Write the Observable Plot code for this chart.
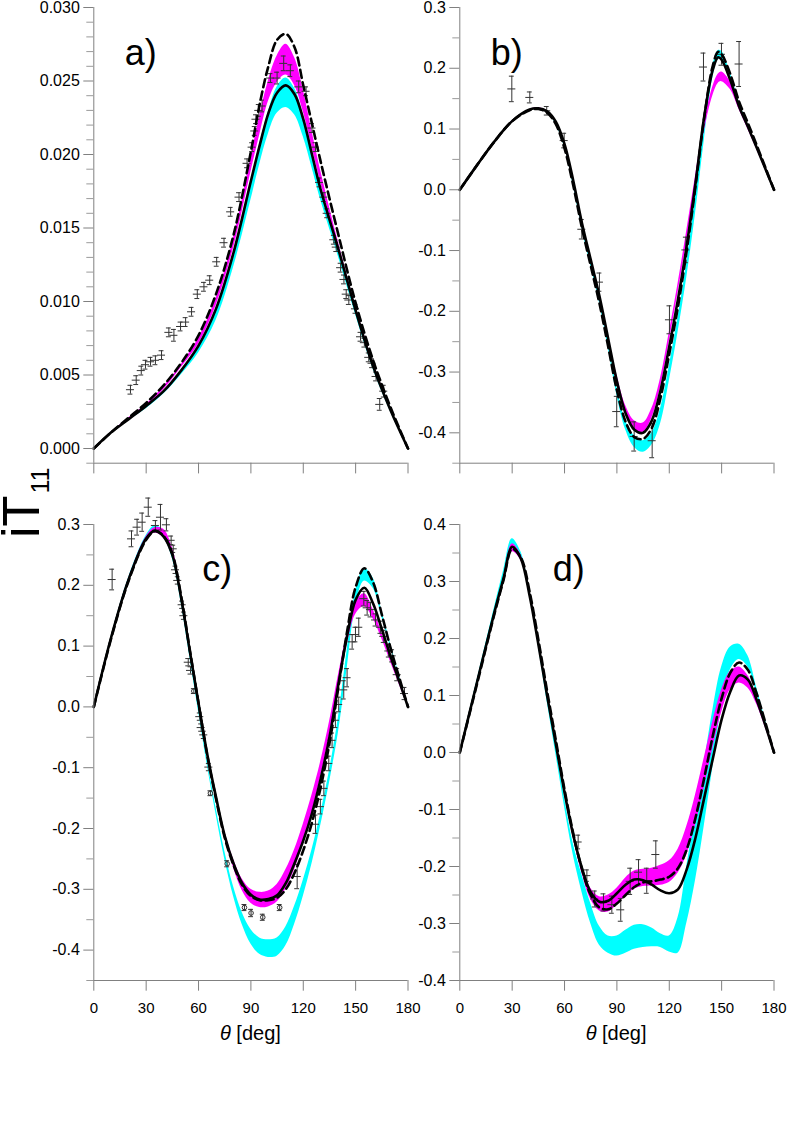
<!DOCTYPE html>
<html><head><meta charset="utf-8">
<script src="https://cdn.jsdelivr.net/npm/d3@7"></script>
<script src="https://cdn.jsdelivr.net/npm/@observablehq/plot@0.6"></script>
<style>
body{margin:0;background:#fff;}
#fig{position:relative;width:801px;height:1144px;font-family:"Liberation Sans",Arial,sans-serif;background:#fff;}
</style></head><body><div id="fig"></div>
<script>
// ---------- shared ----------
const xTicks = [0, 30, 60, 90, 120, 150, 180];
const xDomain = [0, 180];

// ---------- panel a ----------
const thetaA = [0,10,20,30,40,50,60,70,80,90,95,100,105,110,115,120,125,130,140,150,160,170,180];
const aSolid = [0,0.0011,0.0020,0.0029,0.0039,0.0053,0.0070,0.0095,0.0133,0.0182,0.0206,0.0228,0.0242,0.0247,0.0241,0.0224,0.0200,0.0176,0.0136,0.0094,0.0056,0.0026,0];
const aDashed = [0,0.0011,0.0021,0.0031,0.0043,0.0058,0.0077,0.0105,0.0145,0.0202,0.0234,0.0260,0.0278,0.0282,0.0273,0.0247,0.0221,0.0195,0.0146,0.0099,0.0060,0.0028,0];
const aMagHi = [0,0.0011,0.0021,0.0030,0.0042,0.0057,0.0075,0.0102,0.0143,0.0198,0.0226,0.0250,0.0267,0.0275,0.0266,0.0244,0.0216,0.0189,0.0141,0.0097,0.0059,0.0027,0];
const aMagLo = [0,0.0010,0.0020,0.0029,0.0040,0.0055,0.0071,0.0097,0.0136,0.0188,0.0213,0.0236,0.0249,0.0254,0.0247,0.0229,0.0205,0.0181,0.0137,0.0094,0.0057,0.0026,0];
const aCyaHi = [0,0.0011,0.0020,0.0029,0.0039,0.0053,0.0069,0.0093,0.0131,0.0181,0.0207,0.0229,0.0246,0.0252,0.0245,0.0227,0.0203,0.0178,0.0137,0.0095,0.0057,0.0026,0];
const aCyaLo = [0,0.0010,0.0019,0.0027,0.0037,0.0050,0.0065,0.0087,0.0123,0.0169,0.0193,0.0214,0.0228,0.0232,0.0227,0.0212,0.0191,0.0169,0.0131,0.0091,0.0054,0.0025,0];
const aPtT = [21.0,24.3,27.2,29.6,32.5,35.3,38.8,43.0,45.9,49.7,52.6,56.0,59.3,63.1,66.4,70.4,74.6,78.4,83.2,87.8,90.7,92.2,92.9,94.5,96.4,101.2,105.0,108.8,112.6,117.4,121.6,125.0,127.0,129.3,131.8,133.7,137.5,138.9,141.4,143.3,144.6,146.1,149.9,152.8,155.0,157.5,159.4,161.7,163.8,166.1];
const aPtV = [0.0040,0.00465,0.0053,0.0057,0.0059,0.0060,0.00635,0.0079,0.0077,0.0083,0.0086,0.0093,0.0105,0.0110,0.01145,0.0127,0.0140,0.0161,0.0171,0.0194,0.0205,0.0216,0.0224,0.0230,0.0233,0.0252,0.0252,0.0262,0.0257,0.0246,0.0243,0.0218,0.0205,0.0181,0.0171,0.0160,0.0142,0.0137,0.0123,0.0115,0.0105,0.0101,0.0095,0.0076,0.0072,0.0062,0.0058,0.0049,0.0030,0.0039];
const aPtE = [0.0003,0.0003,0.0003,0.0003,0.0003,0.0003,0.0003,0.0003,0.0004,0.0003,0.0003,0.0003,0.0003,0.0003,0.0003,0.0003,0.0003,0.0003,0.0003,0.0003,0.0003,0.0003,0.0003,0.0004,0.0004,0.0003,0.0004,0.0005,0.0004,0.0004,0.0003,0.0003,0.0003,0.0003,0.0003,0.0003,0.0003,0.0003,0.0003,0.0003,0.0003,0.0003,0.0003,0.0003,0.0003,0.0003,0.0003,0.0003,0.0004,0.0004];
const aYMajor = [0, 0.005, 0.010, 0.015, 0.020, 0.025, 0.030];
const aYDomain = [-0.001, 0.030];

// ---------- panel b ----------
const thetaB = [0,10,20,30,40,45,50,55,60,65,70,75,80,85,90,95,100,105,110,115,120,125,130,135,140,145,148,150,155,160,165,170,175,180];
const bSolid = [0,0.041,0.080,0.113,0.132,0.134,0.129,0.112,0.075,0.015,-0.055,-0.115,-0.175,-0.245,-0.315,-0.368,-0.395,-0.400,-0.380,-0.330,-0.258,-0.180,-0.092,0.010,0.120,0.198,0.218,0.214,0.180,0.137,0.104,0.070,0.035,0];
const bDashed = [0,0.041,0.080,0.113,0.131,0.133,0.127,0.108,0.068,0.007,-0.063,-0.125,-0.187,-0.258,-0.330,-0.382,-0.407,-0.410,-0.392,-0.342,-0.270,-0.192,-0.100,0.005,0.118,0.205,0.227,0.223,0.190,0.145,0.110,0.074,0.037,0];
const bMagHi = [0,0.041,0.080,0.113,0.132,0.135,0.130,0.113,0.077,0.018,-0.052,-0.112,-0.170,-0.238,-0.305,-0.355,-0.380,-0.384,-0.360,-0.310,-0.235,-0.155,-0.068,0.022,0.110,0.170,0.190,0.194,0.178,0.140,0.105,0.070,0.035,0];
const bMagLo = [0,0.040,0.079,0.112,0.130,0.133,0.128,0.110,0.073,0.012,-0.058,-0.118,-0.178,-0.248,-0.318,-0.368,-0.394,-0.399,-0.376,-0.325,-0.250,-0.170,-0.085,0.005,0.095,0.155,0.175,0.178,0.165,0.132,0.100,0.067,0.033,0];
const bCyaHi = [0,0.041,0.080,0.113,0.132,0.134,0.129,0.111,0.074,0.012,-0.058,-0.118,-0.178,-0.250,-0.325,-0.380,-0.405,-0.413,-0.400,-0.360,-0.290,-0.210,-0.120,-0.010,0.110,0.205,0.229,0.228,0.192,0.145,0.108,0.072,0.036,0];
const bCyaLo = [0,0.040,0.079,0.112,0.130,0.132,0.127,0.108,0.070,0.007,-0.064,-0.125,-0.186,-0.260,-0.338,-0.395,-0.424,-0.432,-0.420,-0.385,-0.315,-0.235,-0.145,-0.040,0.080,0.185,0.214,0.215,0.185,0.140,0.104,0.069,0.034,0];
const bPtT = [29.8,40.1,49.8,59.8,69.9,80.0,89.9,99.9,110.2,120.1,129.5,139.6,149.9,160.0];
const bPtV = [0.166,0.152,0.130,0.081,-0.065,-0.152,-0.365,-0.406,-0.413,-0.214,-0.099,0.202,0.223,0.207];
const bPtE = [0.021,0.009,0.007,0.012,0.016,0.015,0.025,0.024,0.028,0.023,0.021,0.023,0.018,0.037];
const bYMajor = [-0.4,-0.3,-0.2,-0.1,0,0.1,0.2,0.3];
const bYDomain = [-0.45, 0.3];

// ---------- panel c ----------
const thetaC = [0,10,20,30,35,40,45,50,55,60,65,70,75,80,85,90,95,100,105,110,115,120,125,130,135,140,145,150,155,160,165,170,175,180];
const cSolid = [0,0.115,0.210,0.277,0.290,0.280,0.250,0.180,0.092,0.006,-0.078,-0.148,-0.212,-0.257,-0.290,-0.309,-0.317,-0.316,-0.310,-0.290,-0.257,-0.220,-0.175,-0.118,-0.050,0.035,0.115,0.176,0.196,0.170,0.128,0.083,0.042,0];
const cDashed = [0,0.113,0.208,0.275,0.289,0.281,0.252,0.183,0.094,0.006,-0.080,-0.151,-0.215,-0.260,-0.293,-0.311,-0.318,-0.318,-0.314,-0.300,-0.273,-0.236,-0.190,-0.132,-0.060,0.030,0.122,0.197,0.228,0.205,0.152,0.097,0.048,0];
const cMagHi = [0,0.115,0.211,0.280,0.295,0.292,0.262,0.190,0.100,0.012,-0.072,-0.142,-0.205,-0.250,-0.283,-0.300,-0.305,-0.303,-0.292,-0.268,-0.235,-0.193,-0.145,-0.090,-0.025,0.050,0.120,0.172,0.186,0.160,0.122,0.080,0.040,0];
const cMagLo = [0,0.113,0.208,0.274,0.286,0.278,0.248,0.178,0.090,0.004,-0.080,-0.150,-0.215,-0.264,-0.302,-0.323,-0.330,-0.329,-0.321,-0.300,-0.268,-0.225,-0.175,-0.115,-0.048,0.030,0.100,0.152,0.165,0.145,0.112,0.074,0.037,0];
const cCyaHi = [0,0.116,0.213,0.282,0.298,0.290,0.255,0.182,0.090,0.000,-0.088,-0.165,-0.237,-0.295,-0.338,-0.366,-0.380,-0.383,-0.380,-0.362,-0.328,-0.285,-0.235,-0.175,-0.105,-0.020,0.090,0.190,0.228,0.212,0.158,0.104,0.052,0];
const cCyaLo = [0,0.113,0.208,0.274,0.288,0.279,0.244,0.172,0.082,-0.008,-0.096,-0.176,-0.250,-0.311,-0.358,-0.390,-0.407,-0.412,-0.410,-0.393,-0.358,-0.312,-0.258,-0.195,-0.125,-0.045,0.060,0.165,0.207,0.195,0.148,0.098,0.049,0];
const cPtT = [10.5,21.6,24.8,27.7,31.2,35.3,38.2,41.6,44.3,45.5,46.8,48.1,50.6,51.6,54.1,55.4,60.7,61.5,63.0,65.9,116.5,127.0,129.8,131.8,134.6,136.5,138.4,140.3,143.2,145.1,148.0,149.9,151.8,154.7,156.6,158.5,161.4,164.2,166.1,169.0,170.9,173.8,178.0];
const cPtV = [0.2095,0.2764,0.2956,0.3038,0.3285,0.2984,0.312,0.2995,0.274,0.260,0.2255,0.208,0.168,0.150,0.0735,0.060,-0.016,-0.034,-0.046,-0.099,-0.279,-0.193,-0.164,-0.134,-0.093,-0.055,-0.022,0.004,0.028,0.048,0.107,0.119,0.131,0.178,0.163,0.160,0.143,0.131,0.116,0.092,0.084,0.053,0.022];
const cPtE = [0.017,0.013,0.013,0.015,0.015,0.008,0.021,0.010,0.007,0.006,0.006,0.006,0.006,0.006,0.006,0.006,0.006,0.006,0.006,0.006,0.020,0.015,0.012,0.012,0.012,0.012,0.012,0.012,0.015,0.015,0.012,0.012,0.015,0.012,0.012,0.012,0.010,0.010,0.010,0.010,0.010,0.010,0.010];
const cOpenT = [57.3,66.8,76.4,86.3,90.1,96.8,106.5];
const cOpenV = [0.026,-0.142,-0.258,-0.330,-0.339,-0.346,-0.330];
const cOpenE = [0.004,0.004,0.005,0.005,0.006,0.005,0.005];
const cYMajor = [-0.4,-0.3,-0.2,-0.1,0,0.1,0.2,0.3];
const cYDomain = [-0.45, 0.3];

// ---------- panel d ----------
const thetaD = [0,10,20,25,30,35,40,45,50,55,60,65,70,75,80,85,90,95,100,105,110,115,120,125,130,135,140,145,150,155,160,165,170,175,180];
const dSolid = [0,0.125,0.248,0.305,0.361,0.340,0.275,0.190,0.100,0.015,-0.070,-0.145,-0.203,-0.245,-0.262,-0.260,-0.247,-0.232,-0.223,-0.224,-0.232,-0.242,-0.247,-0.240,-0.205,-0.150,-0.080,-0.010,0.058,0.107,0.135,0.128,0.093,0.048,0];
const dDashed = [0,0.122,0.245,0.302,0.357,0.342,0.282,0.198,0.108,0.022,-0.065,-0.142,-0.205,-0.250,-0.272,-0.275,-0.265,-0.250,-0.236,-0.228,-0.226,-0.223,-0.218,-0.203,-0.170,-0.115,-0.045,0.030,0.095,0.140,0.158,0.145,0.104,0.053,0];
const dMagHi = [0,0.123,0.246,0.305,0.366,0.347,0.285,0.200,0.110,0.025,-0.062,-0.138,-0.198,-0.238,-0.253,-0.250,-0.238,-0.220,-0.208,-0.205,-0.203,-0.198,-0.190,-0.170,-0.130,-0.075,-0.010,0.055,0.110,0.142,0.150,0.135,0.098,0.050,0];
const dMagLo = [0,0.118,0.240,0.298,0.352,0.337,0.278,0.192,0.102,0.015,-0.072,-0.150,-0.212,-0.258,-0.278,-0.280,-0.268,-0.252,-0.240,-0.235,-0.234,-0.233,-0.228,-0.212,-0.180,-0.128,-0.062,0.008,0.070,0.110,0.122,0.113,0.085,0.044,0];
const dCyaHi = [0,0.128,0.256,0.318,0.375,0.352,0.285,0.195,0.100,0.010,-0.080,-0.160,-0.215,-0.265,-0.305,-0.322,-0.322,-0.312,-0.303,-0.302,-0.308,-0.318,-0.322,-0.290,-0.200,-0.110,-0.020,0.075,0.150,0.185,0.190,0.170,0.115,0.058,0];
const dCyaLo = [0,0.122,0.247,0.308,0.362,0.342,0.277,0.187,0.090,-0.002,-0.095,-0.180,-0.245,-0.300,-0.338,-0.352,-0.357,-0.352,-0.345,-0.342,-0.341,-0.342,-0.350,-0.352,-0.300,-0.225,-0.130,-0.025,0.080,0.145,0.163,0.150,0.105,0.053,0];
const dPtT = [67.8,72.8,77.3,82.3,87.1,92.2,97.6,102.4,107.1,112.3];
const dPtV = [-0.157,-0.216,-0.257,-0.263,-0.267,-0.276,-0.226,-0.210,-0.225,-0.179];
const dPtE = [0.012,0.010,0.014,0.015,0.015,0.020,0.023,0.022,0.022,0.024];
const dYMajor = [-0.4,-0.3,-0.2,-0.1,0,0.1,0.2,0.3,0.4];
const dYDomain = [-0.4, 0.4];

const panelLabels = ["a)", "b)", "c)", "d)"];
const yTitle = ["iT", "11"];
const xTitle = ["θ", " [deg]"];

// ---------- builder ----------
const MAG = "#ff00ff", CYA = "#00ffff", AXIS = "#808080", ERR = "#333333";
const FONT = "'Liberation Sans', Arial, sans-serif";

function minorTicks(domain, step, majors) {
  const n = Math.round((domain[1] - domain[0]) / step);
  const out = [];
  for (let i = 0; i <= n; i++) {
    const v = +(domain[0] + i * step).toFixed(6);
    if (!majors.some(m => Math.abs(m - v) < step / 10)) out.push(v);
  }
  return out;
}

function panel(o) {
  const curve = o.theta.map((t, i) => ({t, s: o.solid[i], d: o.dashed[i], mLo: o.magLo[i], mHi: o.magHi[i], cLo: o.cyaLo[i], cHi: o.cyaHi[i]}));
  const pts = o.ptT.map((t, i) => ({t, v: o.ptV[i], e: o.ptE[i]}));
  const open = (o.openT || []).map((t, i) => ({t, v: o.openV[i], e: o.openE[i]}));
  const XE = 2.3, CAP = 1.4;
  const errMarks = (P) => [
    Plot.ruleX(P, {x: "t", y1: d => d.v - d.e, y2: d => d.v + d.e, stroke: ERR, strokeWidth: 1}),
    Plot.ruleY(P, {y: d => d.v + d.e, x1: d => d.t - CAP, x2: d => d.t + CAP, stroke: ERR, strokeWidth: 1}),
    Plot.ruleY(P, {y: d => d.v - d.e, x1: d => d.t - CAP, x2: d => d.t + CAP, stroke: ERR, strokeWidth: 1})
  ];
  const marks = [
    Plot.areaY(curve, {x: "t", y1: "cLo", y2: "cHi", fill: CYA, curve: "catmull-rom"}),
    Plot.areaY(curve, {x: "t", y1: "mLo", y2: "mHi", fill: MAG, curve: "catmull-rom"}),
    ...errMarks(pts),
    Plot.ruleY(pts, {y: "v", x1: d => d.t - XE, x2: d => d.t + XE, stroke: ERR, strokeWidth: 1}),
    ...errMarks(open),
    Plot.dot(open, {x: "t", y: "v", r: 2.3, stroke: ERR, strokeWidth: 1, fill: "none"}),
    Plot.line(curve, {x: "t", y: "d", stroke: "black", strokeWidth: 2.6, strokeDasharray: "8,4.5", curve: "catmull-rom"}),
    Plot.line(curve, {x: "t", y: "s", stroke: "black", strokeWidth: 2.6, curve: "catmull-rom"}),
    Plot.ruleX([xDomain[0]], {y1: o.yDomain[0], y2: o.yDomain[1], stroke: AXIS, strokeWidth: 1}),
    Plot.ruleY([o.yDomain[0]], {x1: xDomain[0], x2: xDomain[1], stroke: AXIS, strokeWidth: 1}),
    Plot.axisY(o.yMinor, {anchor: "left", tickSize: 7, stroke: "#9a9a9a", fill: "none", label: null}),
    Plot.axisY(o.yMajor, {anchor: "left", tickSize: 10, tickPadding: 4, stroke: AXIS, fill: "black", fontSize: 16, tickFormat: o.fmt, label: null}),
    Plot.axisX(xTicks, {anchor: "bottom", tickSize: 10.7, tickPadding: 11.5, stroke: AXIS, fill: o.showX ? "black" : "none", fontSize: 15, tickFormat: d => String(d), label: null}),
    Plot.text([o.label], {frameAnchor: "top-left", dx: o.ldx, dy: o.ldy, textAnchor: "start", lineAnchor: "bottom", fontSize: 36, fill: "black"})
  ];
  const svg = Plot.plot({
    width: 420, height: o.height,
    marginLeft: 93.3, marginRight: 12.5, marginTop: o.mt, marginBottom: o.mb,
    x: {domain: xDomain},
    y: {domain: o.yDomain},
    style: {background: "transparent", overflow: "visible", fontFamily: FONT},
    marks
  });
  svg.style.position = "absolute";
  svg.style.left = o.left + "px";
  svg.style.top = o.top + "px";
  svg.style.maxWidth = "none";
  document.getElementById("fig").appendChild(svg);
}

const f3 = d => d.toFixed(3), f1 = d => d.toFixed(1);

panel({theta: thetaA, solid: aSolid, dashed: aDashed, magLo: aMagLo, magHi: aMagHi, cyaLo: aCyaLo, cyaHi: aCyaHi,
  ptT: aPtT, ptV: aPtV, ptE: aPtE, yDomain: aYDomain, yMajor: aYMajor, yMinor: minorTicks(aYDomain, 0.001, aYMajor), fmt: f3,
  label: panelLabels[0], ldx: 31, ldy: 57, showX: false, left: 0, top: 0, height: 480, mt: 7, mb: 17.3});
panel({theta: thetaB, solid: bSolid, dashed: bDashed, magLo: bMagLo, magHi: bMagHi, cyaLo: bCyaLo, cyaHi: bCyaHi,
  ptT: bPtT, ptV: bPtV, ptE: bPtE, yDomain: bYDomain, yMajor: bYMajor, yMinor: minorTicks(bYDomain, 0.05, bYMajor), fmt: f1,
  label: panelLabels[1], ldx: 31, ldy: 57, showX: false, left: 365.7, top: 0, height: 480, mt: 7, mb: 17.3});
panel({theta: thetaC, solid: cSolid, dashed: cDashed, magLo: cMagLo, magHi: cMagHi, cyaLo: cCyaLo, cyaHi: cCyaHi,
  ptT: cPtT, ptV: cPtV, ptE: cPtE, openT: cOpenT, openV: cOpenV, openE: cOpenE,
  yDomain: cYDomain, yMajor: cYMajor, yMinor: minorTicks(cYDomain, 0.05, cYMajor), fmt: f1,
  label: panelLabels[2], ldx: 108.5, ldy: 56.5, showX: true, left: 0, top: 494, height: 556, mt: 30, mb: 70});
panel({theta: thetaD, solid: dSolid, dashed: dDashed, magLo: dMagLo, magHi: dMagHi, cyaLo: dCyaLo, cyaHi: dCyaHi,
  ptT: dPtT, ptV: dPtV, ptE: dPtE, yDomain: dYDomain, yMajor: dYMajor, yMinor: minorTicks(dYDomain, 0.05, dYMajor), fmt: f1,
  label: panelLabels[3], ldx: 93, ldy: 56.5, showX: true, left: 365.7, top: 494, height: 556, mt: 30, mb: 70});

// ---------- titles (overlay) ----------
const ov = d3.select("#fig").append("svg")
  .attr("width", 801).attr("height", 1144)
  .style("position", "absolute").style("left", "0px").style("top", "0px")
  .style("pointer-events", "none").style("font-family", FONT);
const yt = ov.append("text").attr("transform", "translate(38.5,538) rotate(-90)")
  .attr("font-size", 51).attr("fill", "black");
yt.append("tspan").text(yTitle[0]);
yt.append("tspan").attr("font-size", 25).attr("dy", 10).attr("dx", 2).text(yTitle[1]);
[250.4, 616.1].forEach(cx => {
  const t = ov.append("text").attr("x", cx).attr("y", 1040).attr("text-anchor", "middle").attr("font-size", 20).attr("fill", "black");
  t.append("tspan").attr("font-style", "italic").text(xTitle[0]);
  t.append("tspan").text(xTitle[1]);
});
</script>
</body></html>
